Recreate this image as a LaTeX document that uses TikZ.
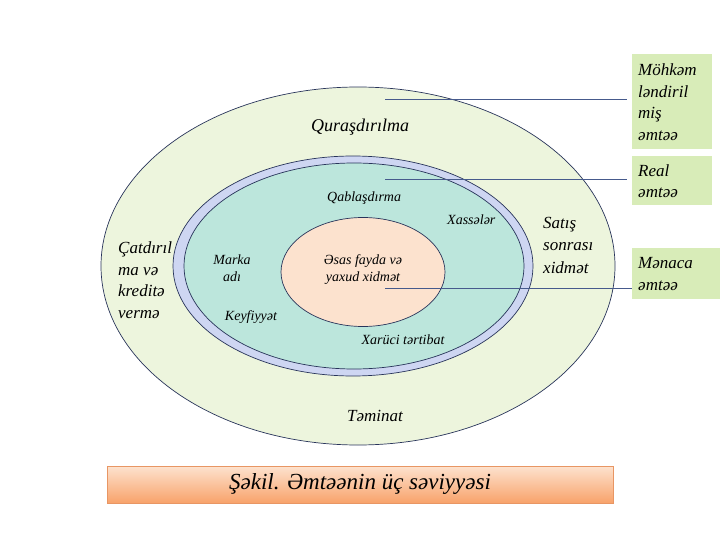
\documentclass[tikz,border=0pt]{standalone}
\usepackage{fontspec}
\setmainfont{Liberation Serif}
\definecolor{outerfill}{RGB}{237,245,221}
\definecolor{boxfill}{RGB}{216,236,184}
\definecolor{lavfill}{RGB}{206,214,242}
\definecolor{tealfill}{RGB}{188,230,220}
\definecolor{corefill}{RGB}{252,226,206}
\definecolor{edgecol}{RGB}{40,52,90}
\definecolor{linecol}{RGB}{70,90,140}
\definecolor{bantop}{RGB}{253,226,206}
\definecolor{banbot}{RGB}{248,162,106}
\definecolor{banedge}{RGB}{232,150,100}
\begin{document}
\begin{tikzpicture}[x=1pt,y=-1pt,
  ring/.style={draw=edgecol,line width=0.7pt},
  lbl/.style={inner sep=0pt,font=\itshape\fontsize{17}{21.5}\selectfont},
  small/.style={inner sep=0pt,font=\itshape\fontsize{14}{17}\selectfont},
  tagbox/.style={fill=boxfill,draw=none,inner sep=0pt,anchor=north west},
  lead/.style={draw=linecol,line width=0.8pt}]
\useasboundingbox (0,0) rectangle (720,540);
% ellipses
\draw[ring,fill=outerfill] (358,266) ellipse [x radius=257,y radius=179];
\draw[ring,fill=lavfill] (353,266) ellipse [x radius=180,y radius=110];
\draw[ring,fill=tealfill] (354,266) ellipse [x radius=170,y radius=103];
\draw[ring,fill=corefill] (363,272) ellipse [x radius=82,y radius=54.5];
% right boxes
\node[tagbox,minimum width=80pt,minimum height=95pt] (mk) at (632,54) {};
\node[tagbox,minimum width=80pt,minimum height=49pt] (re) at (632,156) {};
\node[tagbox,minimum width=88pt,minimum height=51pt] (me) at (632,248) {};
\node[lbl,anchor=base west,align=left] (mkt) at (638,140.5) {Möhkəm\\ləndiril\\miş\\əmtəə};
\node[lbl,anchor=base west,align=left] (ret) at (638,198) {Real\\əmtəə};
\node[lbl,anchor=base west,align=left] (met) at (638,290) {Mənaca\\əmtəə};
% leader lines
\coordinate (s1) at (385,99);
\coordinate (s2) at (385,179);
\coordinate (s3) at (385,288);
\draw[lead,shorten >=5pt] (s1) -- (s1 -| mk.west);
\draw[lead,shorten >=5pt] (s2) -- (s2 -| re.west);
\draw[lead] (s3) -- (s3 -| me.west);
% labels
\node[lbl,anchor=base west,font=\itshape\fontsize{18}{21.5}\selectfont] (qur) at (311,132) {Quraşdırılma};
\node[small,anchor=base west] (qab) at (327,202) {Qablaşdırma};
\node[small,anchor=base west] (xas) at (447,225) {Xassələr};
\node[lbl,anchor=base west,align=left] (cat) at (118,318) {Çatdırıl\\ma və\\kreditə\\vermə};
\node[small,anchor=base,align=center] (mar) at (232,281) {Marka\\adı};
\node[small,anchor=base,align=center] (esas) at (363,281) {Əsas fayda və\\yaxud xidmət};
\node[small,anchor=base] (key) at (251,320) {Keyfiyyət};
\node[small,anchor=base] (xar) at (403,344) {Xarüci tərtibat};
\node[lbl,anchor=base] (tem) at (375,421) {Təminat};
\node[lbl,anchor=base west,align=left,font=\itshape\fontsize{17}{22.5}\selectfont] (sat) at (543,273) {Satış\\sonrası\\xidmət};
% banner
\node[draw=banedge,top color=bantop,bottom color=banbot,minimum width=506pt,minimum height=37pt,inner sep=0pt,anchor=north west] (ban) at (107,466) {};
\node[inner sep=0pt,anchor=base,font=\itshape\fontsize{23}{26}\selectfont] (title) at (360,489) {Şəkil. Əmtəənin üç səviyyəsi};
\end{tikzpicture}
\end{document}
